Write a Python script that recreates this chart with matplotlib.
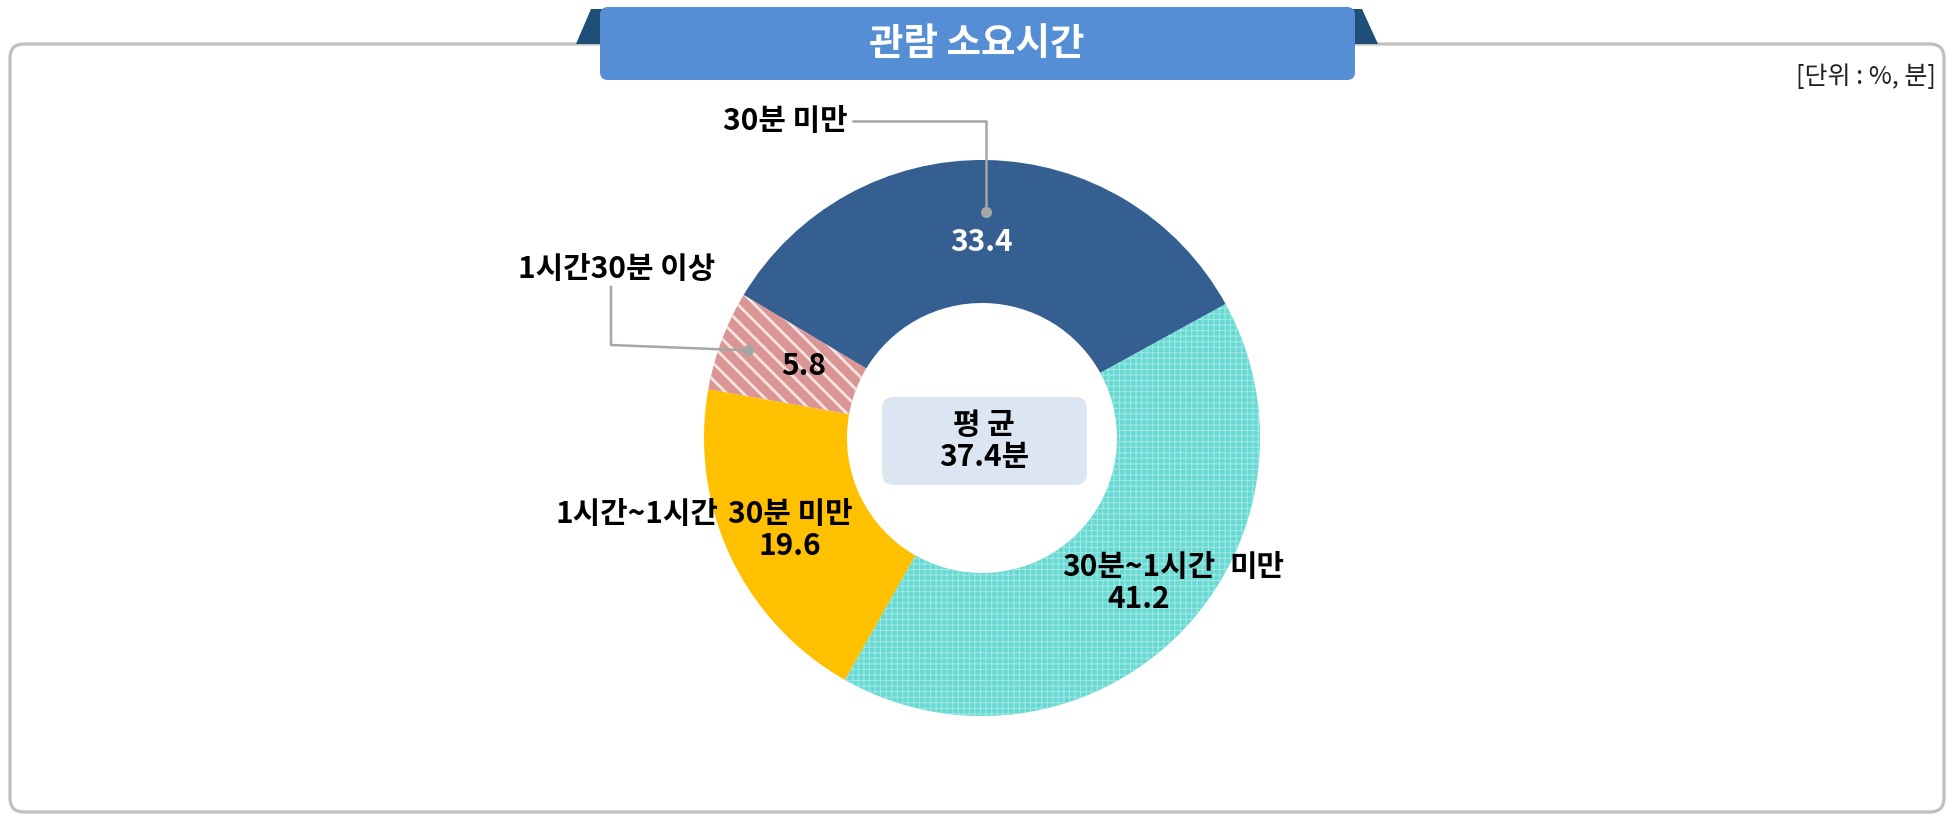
import numpy as np
import matplotlib
matplotlib.use("Agg")
import matplotlib.pyplot as plt
from matplotlib.patches import FancyBboxPatch, Polygon

plt.rcParams['font.family'] = ['Noto Sans CJK KR', 'DejaVu Sans']

# data
categories = ['30분 미만', '1시간30분 이상', '1시간~1시간 30분 미만', '30분~1시간 미만']
values = [33.4, 5.8, 19.6, 41.2]
colors = ['#355F91', '#D99694', '#FFC000', '#66D9D3']
hatch_colors = [None, '#F6E4E3', None, '#9FE7E3']
hatches = [None, '\\\\', None, '+++']
title = '관람 소요시간'
unit = '[단위 : %, 분]'
avg_label = '평 균\n37.4분'

W, H = 1954, 819
fig = plt.figure(figsize=(W / 100, H / 100), dpi=100)
ax = fig.add_axes([0, 0, 1, 1])

# outer frame
ax.add_patch(FancyBboxPatch((10, 44), 1934, 768, boxstyle='round,pad=0,rounding_size=14',
                            fc='white', ec='#BFBFBF', lw=2.3, zorder=1))

# donut
cx, cy, r_out, r_in = 982, 438, 278, 135
wedges, _ = ax.pie(values, colors=colors, startangle=-28.8, counterclock=False,
                   radius=r_out, center=(cx, cy), frame=True,
                   wedgeprops=dict(width=r_out - r_in, linewidth=0))
ax.set_xlim(0, W)
ax.set_ylim(H, 0)
ax.axis('off')
plt.rcParams['hatch.linewidth'] = 1.6
for w, h, hc in zip(wedges, hatches, hatch_colors):
    w.set_zorder(2)
    if h:
        w.set_hatch(h)
        w.set_edgecolor(hc)
        w.set_linewidth(0)
        if hasattr(w, 'set_hatch_linewidth'):
            w.set_hatch_linewidth(2.0 if h.startswith('\\') else 0.8)


def polar(w, r):
    t = np.deg2rad((w.theta1 + w.theta2) / 2)
    return cx + r * np.cos(t), cy + r * np.sin(t)


fs = 21.5
bold = dict(fontsize=fs, fontweight='bold', ha='center', va='center', zorder=5)

# 30분 미만
x, y = polar(wedges[0], 200)
ax.text(x - 4, y + 4, f'{values[0]}', color='white', **bold)
dx, dy = polar(wedges[0], 226)
ax.plot([853, dx, dx], [121, 121, dy], color='#A6A6A6', lw=1.8, zorder=4)
ax.plot(dx, dy, 'o', color='#A6A6A6', ms=7, zorder=4)
ax.text(785, 121, categories[0], **bold)

# 1시간30분 이상
x, y = polar(wedges[1], 210)
ax.text(x + 18, y + 2, f'{values[1]}', color='black', **bold)
dx, dy = polar(wedges[1], 250)
ax.plot([611, 611, dx], [287, 345, dy], color='#A6A6A6', lw=1.8, zorder=4)
ax.plot(dx, dy, 'o', color='#A6A6A6', ms=7, zorder=4)
ax.text(617, 269, categories[1], **bold)

# 1시간~1시간 30분 미만
x, y = polar(wedges[2], 212)
t = ax.text(x, y + 2, '30분 미만\n' + f'{values[2]}', color='black', linespacing=1.1, **bold)
ax.annotate('1시간~1시간', xy=(0, 1), xycoords=t, xytext=(-7, 0), textcoords='offset points',
            fontsize=fs, fontweight='bold', ha='right', va='top', zorder=5)

# 30분~1시간 미만
x, y = polar(wedges[3], 212)
t = ax.text(x + 8, y - 6, '30분~1시간\n' + f'{values[3]}', color='black', linespacing=1.1, **bold)
ax.annotate('미만', xy=(1, 1), xycoords=t, xytext=(10, 0), textcoords='offset points',
            fontsize=fs, fontweight='bold', ha='left', va='top', zorder=5)

# average box
ax.add_patch(FancyBboxPatch((882, 397), 205, 88, boxstyle='round,pad=0,rounding_size=12',
                            fc='#DCE6F2', ec='none', zorder=3))
ax.text(984, 441, avg_label, linespacing=1.05, **bold)

# title banner
ax.add_patch(Polygon([[576, 44], [591, 9], [620, 9], [620, 44]], closed=True,
                     fc='#1F4E79', ec='none', zorder=6))
ax.add_patch(Polygon([[1378, 44], [1362, 9], [1330, 9], [1330, 44]], closed=True,
                     fc='#1F4E79', ec='none', zorder=6))
ax.add_patch(FancyBboxPatch((600, 7), 755, 73, boxstyle='round,pad=0,rounding_size=8',
                            fc='#558ED5', ec='none', zorder=7))
ax.text(977, 44, title, color='white', fontsize=27, fontweight='bold',
        ha='center', va='center', zorder=8)

ax.text(1936, 77, unit, fontsize=18, ha='right', va='center', color='#222222', zorder=5)

fig.savefig('out.png', dpi=100)
